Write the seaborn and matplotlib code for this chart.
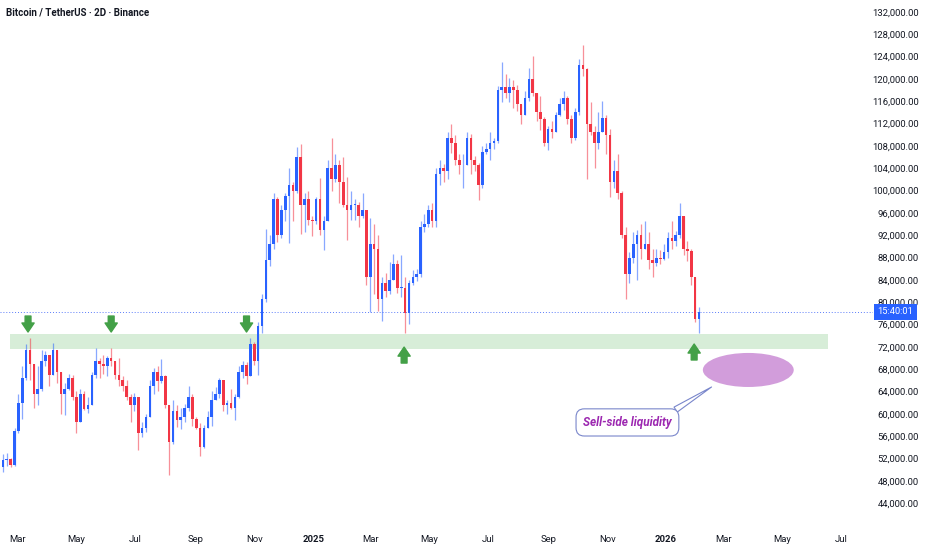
import numpy as np
import pandas as pd
import seaborn as sns
import matplotlib.pyplot as plt
import matplotlib.dates as mdates
import matplotlib.transforms as mtransforms
from matplotlib.colors import to_rgba
from matplotlib.patches import Ellipse
from matplotlib.ticker import FuncFormatter

# ---------------- data (BTC/USDT, prices in thousands, 4-day candles) ----------------
first_date = "2024-02-15"
first_open = 50.5

close = [51.8, 51.9, 50.8, 57.0, 62.0, 66.5, 71.5, 69.0, 63.5, 64.5,
         69.5, 70.5, 67.0, 71.5, 67.5, 63.5, 64.5, 66.5, 63.0, 58.5,
         63.5, 60.8, 61.5, 67.0, 69.5, 69.0, 68.5, 70.0, 69.5, 67.0,
         66.0, 65.0, 63.0, 61.5, 63.0, 56.5, 57.5, 59.5, 65.0, 67.5,
         65.8, 66.8, 61.5, 55.0, 60.5, 58.8, 59.5, 61.0, 63.0, 59.0,
         57.5, 54.0, 57.5, 59.5, 62.5, 63.5, 66.0, 61.5, 62.0, 61.0,
         63.0, 67.5, 68.8, 66.8, 72.5, 69.5, 75.8, 80.5, 87.5, 90.5,
         98.5, 92.0, 96.5, 99.0, 101.0, 100.0, 106.0, 97.5, 98.5, 94.8,
         94.5, 98.5, 93.0, 94.5, 104.0, 102.0, 104.5, 101.5, 97.5, 96.5,
         97.5, 97.5, 95.5, 96.5, 84.5, 90.5, 89.5, 80.5, 83.5, 82.0,
         84.0, 86.8, 82.5, 82.5, 78.0, 83.5, 84.5, 85.0, 93.5, 94.0,
         96.5, 94.5, 103.0, 104.0, 103.5, 109.5, 108.5, 105.5, 104.5, 104.5,
         109.5, 105.5, 104.5, 101.0, 107.0, 107.5, 108.5, 108.8, 118.0, 118.5,
         117.5, 118.5, 118.0, 115.5, 113.5, 116.5, 120.0, 117.5, 114.0, 112.8,
         108.5, 111.0, 110.5, 113.5, 115.5, 116.5, 112.8, 109.5, 114.0, 122.5,
         121.8, 112.0, 110.5, 108.5, 110.5, 113.0, 110.0, 101.5, 103.5, 99.5,
         92.0, 85.0, 88.0, 90.5, 92.0, 89.5, 90.5, 87.5, 87.0, 88.0,
         87.8, 89.0, 91.5, 91.0, 92.0, 95.5, 89.5, 89.2, 84.5, 77.0,
         78.3]

high = [52.8, 52.9, 52.0, 57.5, 63.5, 68.5, 72.5, 73.5, 69.0, 68.5,
        71.5, 71.3, 70.5, 72.7, 71.5, 67.5, 65.5, 67.2, 67.0, 64.0,
        64.5, 64.0, 63.0, 67.5, 71.8, 70.0, 70.5, 70.3, 71.8, 69.5,
        70.0, 66.8, 66.0, 63.5, 63.8, 63.0, 58.5, 60.0, 66.0, 68.2,
        68.5, 69.8, 67.0, 61.5, 62.5, 61.5, 61.0, 61.8, 65.0, 63.5,
        59.5, 58.3, 58.0, 60.5, 64.0, 64.8, 66.5, 66.0, 62.5, 64.5,
        63.5, 68.5, 69.5, 69.2, 73.6, 72.8, 76.5, 81.5, 93.2, 92.0,
        99.5, 98.8, 97.5, 99.5, 104.0, 101.5, 107.8, 108.3, 99.5, 99.9,
        95.5, 98.9, 102.3, 95.5, 105.5, 109.5, 106.5, 105.5, 106.0, 102.5,
        100.0, 98.5, 98.0, 99.5, 96.5, 95.0, 94.0, 92.0, 84.5, 85.2,
        87.2, 88.6, 87.5, 88.5, 84.5, 84.0, 85.8, 86.0, 94.5, 95.8,
        97.5, 97.8, 104.0, 105.5, 104.8, 110.5, 112.0, 110.0, 106.5, 106.5,
        110.5, 110.2, 106.2, 105.0, 108.0, 108.5, 110.5, 109.5, 118.8, 123.0,
        120.8, 120.2, 119.8, 119.0, 115.5, 117.8, 122.0, 124.2, 117.5, 117.0,
        113.2, 111.5, 112.5, 114.0, 116.5, 117.8, 117.0, 113.5, 114.8, 123.5,
        126.0, 122.0, 115.8, 111.5, 114.0, 116.0, 113.5, 111.0, 105.5, 106.5,
        100.0, 93.5, 89.0, 92.5, 93.0, 94.0, 94.5, 92.5, 89.5, 89.5,
        89.3, 90.5, 92.5, 94.5, 92.8, 97.8, 95.5, 91.0, 89.5, 84.5,
        79.2]

low = [49.5, 50.6, 50.5, 50.6, 56.5, 59.0, 66.0, 66.0, 61.0, 61.5,
       64.0, 68.5, 65.0, 67.0, 65.5, 60.0, 59.8, 64.2, 62.5, 56.5,
       58.5, 60.6, 60.2, 61.5, 66.5, 66.5, 67.2, 66.8, 68.5, 66.3,
       65.0, 64.0, 62.5, 58.5, 60.5, 53.5, 55.8, 56.8, 59.5, 63.5,
       64.0, 65.5, 61.0, 49.0, 54.5, 57.6, 57.2, 58.5, 60.5, 57.8,
       57.2, 52.5, 53.8, 57.5, 57.8, 62.5, 62.8, 60.5, 60.0, 60.8,
       58.9, 62.8, 66.5, 65.3, 66.8, 68.8, 67.0, 74.5, 80.0, 86.5,
       89.5, 90.8, 91.5, 94.5, 90.6, 94.5, 99.5, 92.2, 92.5, 93.8,
       91.8, 94.0, 92.0, 89.3, 94.5, 100.0, 101.5, 97.8, 97.0, 91.2,
       94.8, 94.8, 93.5, 95.0, 83.0, 78.2, 81.5, 78.5, 76.6, 81.0,
       81.5, 84.0, 81.6, 81.0, 74.5, 76.0, 83.0, 83.8, 84.5, 92.5,
       93.5, 93.5, 93.5, 101.0, 101.5, 102.0, 106.8, 104.5, 103.0, 100.5,
       104.5, 103.0, 103.5, 98.3, 100.5, 106.5, 105.5, 107.5, 108.5, 115.8,
       116.5, 115.8, 114.8, 114.3, 112.0, 113.5, 116.0, 117.0, 112.5, 110.8,
       108.0, 107.3, 109.5, 110.5, 113.3, 114.5, 112.0, 108.6, 109.0, 113.5,
       120.5, 102.0, 110.0, 104.0, 107.5, 110.5, 106.5, 98.9, 100.5, 98.5,
       91.5, 80.5, 83.5, 87.0, 84.0, 87.8, 89.5, 86.0, 84.5, 86.5,
       86.8, 87.5, 88.0, 89.5, 90.0, 91.5, 88.5, 87.3, 83.0, 76.5,
       74.5]

# support zone and annotations
zone_low, zone_high = 71600, 74300
zone_start, zone_end = "2024-02-22", "2026-06-17"

arrow_dates = ["2024-03-12", "2024-06-06", "2024-10-24", "2025-04-05", "2026-01-30"]
arrow_tips = [74650, 74650, 74650, 71950, 72500]
arrow_dirs = ["down", "down", "down", "up", "up"]

liq_center = ("2026-03-27", 67850)
liq_width_days, liq_height = 94, 6100
liq_label = "Sell-side liquidity"
liq_label_pos = ("2025-11-22", 58450)
liq_pointer = ("2026-02-17", 64800)

title = "Bitcoin / TetherUS \u00b7 2D \u00b7 Binance"
countdown = "15:40:01"

x_tick_dates = ["2024-03-01", "2024-05-01", "2024-07-01", "2024-09-01", "2024-11-01",
                "2025-01-01", "2025-03-01", "2025-05-01", "2025-07-01", "2025-09-01",
                "2025-11-01", "2026-01-01", "2026-03-01", "2026-05-01", "2026-07-01"]
x_tick_labels = ["Mar", "May", "Jul", "Sep", "Nov", "2025", "Mar", "May", "Jul", "Sep",
                 "Nov", "2026", "Mar", "May", "Jul"]
y_ticks = list(range(44000, 132001, 4000))

# ---------------- frame ----------------
close_p = np.array(close) * 1000
high_p = np.array(high) * 1000
low_p = np.array(low) * 1000
open_p = np.concatenate([[first_open * 1000], close_p[:-1]])
df = pd.DataFrame({
    "date": pd.date_range(first_date, periods=len(close), freq="4D"),
    "open": open_p, "high": high_p, "low": low_p, "close": close_p,
})

UP, DOWN = "#2962ff", "#f23645"
GREEN = "#43a047"
TXT = "#131722"

sns.set_theme(style="white")
plt.rcParams["font.family"] = ["Roboto", "DejaVu Sans"]

fig = plt.figure(figsize=(9.32, 5.5), dpi=100)
ax = fig.add_axes([0, 22 / 550, 873 / 932, 528 / 550])

up = df["close"] >= df["open"]
body_col = np.where(up, UP, DOWN)
wick_col = [to_rgba(c, 0.55) for c in body_col]

ax.vlines(df["date"], df["low"], df["high"], colors=wick_col, linewidth=0.9, zorder=2)
body_h = np.maximum((df["close"] - df["open"]).abs(), 150)
ax.bar(df["date"], body_h, bottom=df[["open", "close"]].min(axis=1),
       width=2.7, color=body_col, linewidth=0, zorder=3)

# support zone
ax.fill_between(pd.to_datetime([zone_start, zone_end]), zone_low, zone_high,
                color="#4caf50", alpha=0.22, linewidth=0, zorder=1)

# arrows
for d, tip, direction in zip(arrow_dates, arrow_tips, arrow_dirs):
    off = 11.5 if direction == "down" else -11.5
    ax.annotate("", xy=(pd.Timestamp(d), tip), xytext=(0, off), textcoords="offset points",
                arrowprops=dict(arrowstyle="simple,head_length=0.65,head_width=0.88,tail_width=0.42",
                                mutation_scale=10, color=GREEN, shrinkA=0, shrinkB=0),
                zorder=5)

# liquidity ellipse + callout
ax.add_patch(Ellipse((mdates.date2num(pd.Timestamp(liq_center[0])), liq_center[1]),
                     width=liq_width_days, height=liq_height,
                     facecolor="#9c27b0", alpha=0.45, edgecolor="none", zorder=4))
ax.annotate(liq_label, xy=(pd.Timestamp(liq_pointer[0]), liq_pointer[1]),
            xytext=(pd.Timestamp(liq_label_pos[0]), liq_label_pos[1]),
            ha="center", va="center", fontsize=8.5, fontstyle="italic", fontweight="semibold",
            color="#9c27b0", zorder=6,
            bbox=dict(boxstyle="round,pad=0.6,rounding_size=0.7", fc="white", ec="#7986cb", lw=0.8),
            arrowprops=dict(arrowstyle="wedge,tail_width=0.5,shrink_factor=0.5", fc="white",
                            ec="#7986cb", lw=0.8, relpos=(0.93, 1.0), shrinkA=0, shrinkB=0))

# last price line + countdown tag
last = df["close"].iloc[-1]
ax.axhline(last, color="#5b7cfa", linestyle=(0, (1, 2)), linewidth=0.7, zorder=1)
trans = mtransforms.blended_transform_factory(ax.transAxes, ax.transData)
ax.text(1.0257, last, countdown, transform=trans, ha="center", va="center", color="white",
        fontsize=6.7, zorder=7, clip_on=False,
        bbox=dict(boxstyle="square,pad=0.38", fc=UP, ec="none"))

# axes
ax.set_xlim(pd.Timestamp("2024-02-12"), pd.Timestamp("2026-08-03"))
ax.set_ylim(39530, 134150)
ax.set_xticks(pd.to_datetime(x_tick_dates))
ax.set_xticklabels(x_tick_labels)
for lbl in ax.get_xticklabels():
    if lbl.get_text().isdigit():
        lbl.set_fontweight("bold")
ax.set_yticks(y_ticks)
ax.yaxis.set_major_formatter(FuncFormatter(lambda v, p: f"{v:,.2f}"))
ax.yaxis.tick_right()
ax.tick_params(axis="y", length=0, pad=33, labelsize=6.8, labelcolor=TXT)
ax.tick_params(axis="x", length=0, pad=5, labelsize=6.8, labelcolor=TXT)
plt.setp(ax.get_yticklabels(), ha="right")
for s in ax.spines.values():
    s.set_visible(False)
ax.grid(False)

fig.text(6 / 932, 1 - 12 / 550, title, ha="left", va="center", fontsize=7,
         fontweight="semibold", color=TXT)

fig.savefig("out.png", dpi=100)
